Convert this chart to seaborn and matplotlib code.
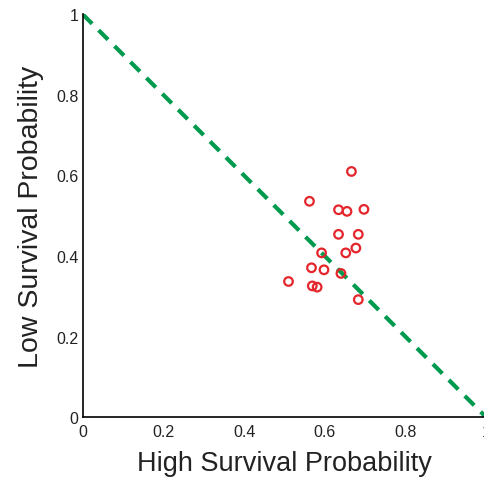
import matplotlib
matplotlib.use("Agg")
import matplotlib.pyplot as plt
import seaborn as sns
import pandas as pd

# Survival probabilities per group
high_survival = [0.666, 0.562, 0.634, 0.655, 0.697, 0.634, 0.683, 0.677, 0.652,
                 0.592, 0.567, 0.598, 0.640, 0.510, 0.569, 0.581, 0.683]
low_survival = [0.610, 0.536, 0.515, 0.511, 0.516, 0.454, 0.454, 0.420, 0.408,
                0.408, 0.371, 0.366, 0.357, 0.337, 0.326, 0.323, 0.292]
diag_x = [0, 1]
diag_y = [1, 0]
tick_values = [0, 0.2, 0.4, 0.6, 0.8, 1]
tick_labels = ["0", "0.2", "0.4", "0.6", "0.8", "1"]

sns.set_style("white")
plt.rcParams["font.family"] = ["Liberation Sans", "DejaVu Sans"]

df = pd.DataFrame({"high": high_survival, "low": low_survival})

fig = plt.figure(figsize=(4.85, 4.81), dpi=100)
W, H = 485, 481
ax = fig.add_axes([82.7 / W, (H - 418.3) / H, 403.5 / W, 403 / H])

sns.lineplot(x=diag_x, y=diag_y, ax=ax, color="#009a4e", linewidth=3,
             dashes=False, linestyle=(0, (3.2, 2.2)), zorder=2)
sns.scatterplot(data=df, x="high", y="low", ax=ax, marker="o",
                facecolor="none", edgecolor="#e4262c", linewidth=1.6,
                s=38, zorder=3)

ax.set_xlim(0, 1)
ax.set_ylim(0, 1)
ax.set_xticks(tick_values)
ax.set_xticklabels(tick_labels)
ax.set_yticks(tick_values)
ax.set_yticklabels(tick_labels)
ax.tick_params(direction="in", length=5, width=1, labelsize=11.5,
               colors="#222222", pad=3)
ax.tick_params(axis="x", pad=5)
for side in ["top", "right"]:
    ax.spines[side].set_visible(False)
for side in ["left", "bottom"]:
    ax.spines[side].set_color("black")
    ax.spines[side].set_linewidth(1.2)

ax.set_xlabel("High Survival Probability", fontsize=19.5, color="#222222", labelpad=8)
ax.set_ylabel("Low Survival Probability", fontsize=20.5, color="#222222", labelpad=9)

fig.savefig("out.png", dpi=100)
